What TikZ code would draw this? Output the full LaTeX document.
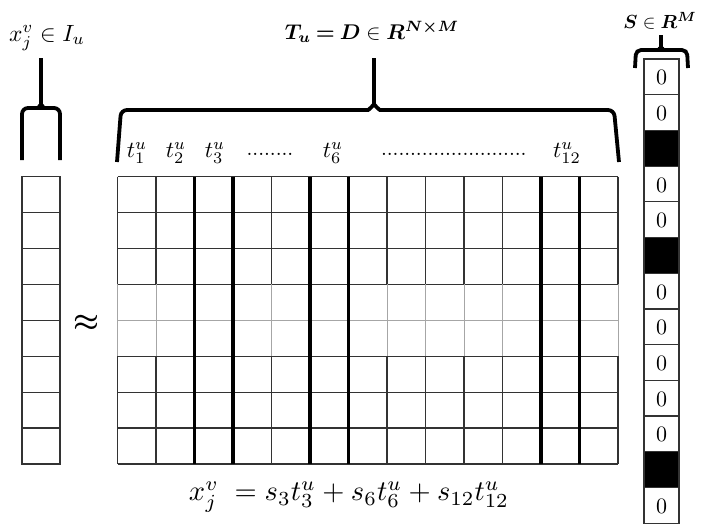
\documentclass[tikz,border=0pt]{standalone}
\usepackage{amsmath,bm}
\begin{document}
\begin{tikzpicture}[x=1pt,y=-1pt,
  thinline/.style={line width=1.2pt,draw=black!80},
  lightline/.style={line width=1.0pt,draw=black!35},
  thickline/.style={line width=3.6pt,draw=black},
  bracepath/.style={line width=3.8pt,draw=black,rounded corners=6pt,line cap=butt},
  lbl/.style={inner sep=0pt,scale=2.3},
  dots/.style={inner sep=0pt,scale=2.1},
  zero/.style={inner sep=0pt,scale=2.2}]
\useasboundingbox (0,0) rectangle (705,523);
% ---------------- left vector ----------------
\def\rh{35.9}
\foreach \i in {0,...,7}{
  \draw[thinline] (22,{176.7+\i*\rh}) rectangle (60,{176.7+(\i+1)*\rh});
}
% ---------------- matrix ----------------
\def\xz{117.5}\def\cw{38.5}\def\yz{176.7}
\foreach \i in {0,1,2,3,5,6,7,8}{
  \draw[thinline] (\xz,{\yz+\i*\rh}) -- ({\xz+13*\cw},{\yz+\i*\rh});
}
\draw[lightline] (\xz,{\yz+4*\rh}) -- ({\xz+13*\cw},{\yz+4*\rh});
\foreach \j in {0,1,4,7,8,9,10,13}{
  \draw[thinline] ({\xz+\j*\cw},\yz) -- ({\xz+\j*\cw},{\yz+3*\rh});
  \draw[lightline] ({\xz+\j*\cw},{\yz+3*\rh}) -- ({\xz+\j*\cw},{\yz+5*\rh});
  \draw[thinline] ({\xz+\j*\cw},{\yz+5*\rh}) -- ({\xz+\j*\cw},{\yz+8*\rh});
}
\foreach \j in {2,3,5,6,11,12}{
  \draw[thickline] ({\xz+\j*\cw},\yz) -- ({\xz+\j*\cw},{\yz+8*\rh});
}
% column labels
\node[lbl] (t1) at (137,153) {$t_1^u$};
\node[lbl] (t2) at (176,153) {$t_2^u$};
\node[lbl] (t3) at (215,153) {$t_3^u$};
\node[dots] (d1) at (270,154) {$\mathord{.}\mathord{.}\mathord{.}\mathord{.}\mathord{.}\mathord{.}\mathord{.}\mathord{.}$};
\node[lbl] (t6) at (333,153) {$t_6^u$};
\node[dots] (d2) at (454,154) {$\mathord{.}\mathord{.}\mathord{.}\mathord{.}\mathord{.}\mathord{.}\mathord{.}\mathord{.}\mathord{.}\mathord{.}\mathord{.}\mathord{.}\mathord{.}\mathord{.}\mathord{.}\mathord{.}\mathord{.}\mathord{.}\mathord{.}\mathord{.}\mathord{.}\mathord{.}\mathord{.}\mathord{.}\mathord{.}$};
\node[lbl] (t12) at (567,153) {$t_{12}^u$};
% approx
\node[inner sep=0pt,scale=2.9] (approx) at (86,323) {$\boldsymbol{\approx}$};
% ---------------- right vector ----------------
\def\ch{35.7}
\foreach \i in {0,1,3,4,6,7,8,9,10,12}{
  \draw[thinline] (644,{59+\i*\ch}) rectangle (679,{59+(\i+1)*\ch});
  \node[zero] (s\i) at (661.5,{59+(\i+0.5)*\ch+1}) {0};
}
\foreach \i in {2,5,11}{
  \fill[black] (644,{59+\i*\ch}) rectangle (679,{59+(\i+1)*\ch});
  \draw[thinline] (644,{59+\i*\ch}) rectangle (679,{59+(\i+1)*\ch});
}
% ---------------- braces ----------------
\draw[bracepath] (22,160) -- (22,108) -- (33,108) to[out=0,in=-90] (41,99) -- (41,58);
\draw[bracepath] (60,160) -- (60,108) -- (49,108) to[out=180,in=-90] (41,99) -- (41,58);
\draw[bracepath] (117,162) -- (121,110) -- (362,110) to[out=0,in=-90] (374,98) -- (374,58);
\draw[bracepath] (619,162) -- (614,110) -- (386,110) to[out=180,in=-90] (374,98) -- (374,58);
\draw[bracepath,rounded corners=5pt] (635,68) -- (636,50) -- (654,50) to[out=0,in=-90] (661,43) -- (661,35);
\draw[bracepath,rounded corners=5pt] (688,68) -- (687,50) -- (668,50) to[out=180,in=-90] (661,43) -- (661,35);
% ---------------- top labels ----------------
\node[inner sep=0pt,scale=2.35] (xl) at (47,38) {$x_j^v\in I_u$};
\node[inner sep=0pt,scale=2.13] (tl) at (372,32) {$\bm{T_u} \mathbin{\bm{=}} \bm{D} \in \bm{R^{N\times M}}$};
\node[inner sep=0pt,scale=1.9] (sl) at (660,21) {$\bm{S} \in \bm{R^{M}}$};
% ---------------- bottom equation ----------------
\node[inner sep=0pt,scale=2.85] (eq) at (349,497) {$x_j^v \;= s_3t_3^u + s_6t_6^u + s_{12}t_{12}^u$};
\end{tikzpicture}
\end{document}
